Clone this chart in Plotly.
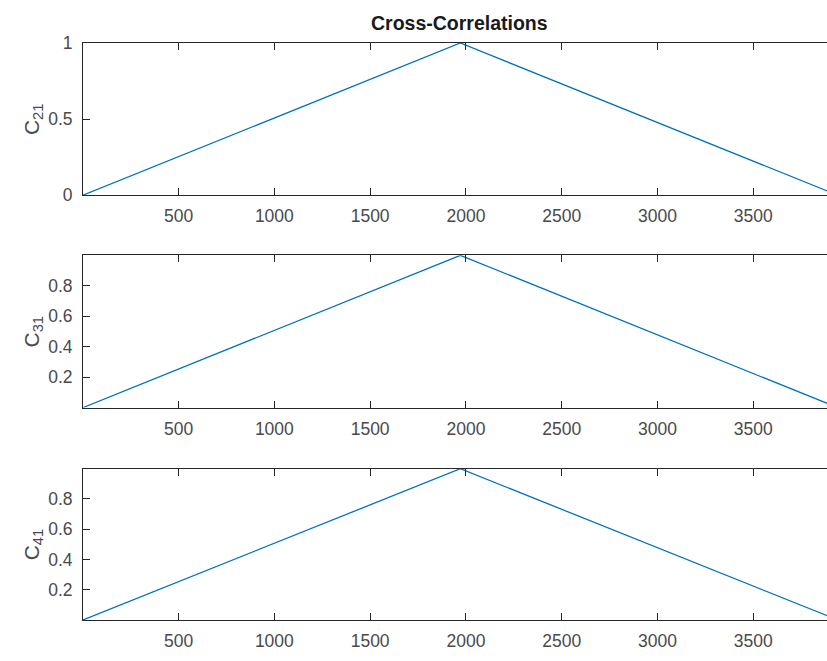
import plotly.graph_objects as go

# Lag index and normalised cross-correlation of channels 2, 3, 4 against channel 1
lags = [1, 1971, 3941]
c21 = [0.0, 1.0, 0.0]
c31 = [0.0005, 0.9995, 0.0005]
c41 = [0.0005, 0.9995, 0.0005]

series = [c21, c31, c41]
series_labels = ["C<sub>21</sub>", "C<sub>31</sub>", "C<sub>41</sub>"]

x_tickvals = [500, 1000, 1500, 2000, 2500, 3000, 3500]
y_tickvals_first = [0, 0.5, 1]
y_tickvals_rest = [0.2, 0.4, 0.6, 0.8]
y_ranges = [[0.0, 1.0], [0.0005, 0.9995], [0.0005, 0.9995]]
x_visible = [1, 3885]

W, H = 827, 661
left_px = 83
# vertical pixel extents (top, bottom) of each axes box
boxes = [(34, 191), (253, 410), (473, 629)]

LINE = "#0072BD"
AXC = "#262626"
TXT = "#4a4a4a"
FONT = "Liberation Sans, Arial, Helvetica, sans-serif"

fig = go.Figure()
layout = dict(
    width=W, height=H,
    margin=dict(l=0, r=0, t=0, b=0),
    paper_bgcolor="white", plot_bgcolor="white",
    showlegend=False,
    font=dict(family=FONT, size=17, color=TXT),
)

annotations = []
for i, (vals, lab) in enumerate(zip(series, series_labels)):
    n = i + 1
    xa = "x" if n == 1 else f"x{n}"
    ya = "y" if n == 1 else f"y{n}"
    fig.add_trace(go.Scatter(x=lags, y=vals, mode="lines",
                             line=dict(color=LINE, width=1.3),
                             xaxis=xa, yaxis=ya, hoverinfo="skip"))
    top, bot = boxes[i]
    dom_y = [(H - bot) / H, (H - top) / H]
    xkey = "xaxis" if n == 1 else f"xaxis{n}"
    ykey = "yaxis" if n == 1 else f"yaxis{n}"
    layout[xkey] = dict(
        domain=[left_px / W, 1], range=x_visible, anchor=ya,
        tickvals=x_tickvals, ticks="inside", ticklen=7, tickcolor=AXC,
        showline=True, linecolor=AXC, linewidth=1, mirror="ticks",
        showgrid=False, zeroline=False, ticklabelstandoff=5,
        tickfont=dict(family=FONT, size=17.5, color=TXT),
    )
    layout[ykey] = dict(
        domain=dom_y, range=y_ranges[i], anchor=xa,
        tickvals=y_tickvals_first if n == 1 else y_tickvals_rest,
        ticks="inside", ticklen=7, tickcolor=AXC,
        showline=True, linecolor=AXC, linewidth=1, mirror=False,
        showgrid=False, zeroline=False, ticklabelstandoff=6,
        tickfont=dict(family=FONT, size=17.5, color=TXT),
    )
    annotations.append(dict(
        text=lab, xref="paper", yref="paper",
        x=33 / W, y=(dom_y[0] + dom_y[1]) / 2,
        xanchor="center", yanchor="middle", textangle=-90, showarrow=False,
        font=dict(family=FONT, size=21, color=TXT),
    ))

annotations.append(dict(
    text="<b>Cross-Correlations</b>", xref="paper", yref="paper",
    x=460 / W, y=(H - 13) / H, xanchor="center", yanchor="middle",
    showarrow=False, font=dict(family=FONT, size=19.5, color="#1a1a1a"),
))
layout["annotations"] = annotations

fig.update_layout(**layout)
fig.write_html("out.html")
